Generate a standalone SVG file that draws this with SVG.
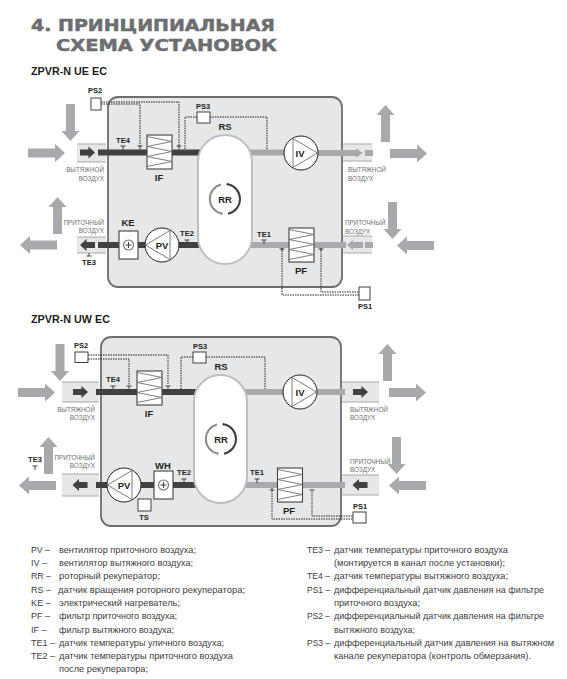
<svg xmlns="http://www.w3.org/2000/svg" xmlns:xlink="http://www.w3.org/1999/xlink" width="567" height="679" viewBox="0 0 567 679">
<style>
text{font-family:"Liberation Sans",Arial,sans-serif;fill:#231f20}
.title{font-family:"DejaVu Sans",sans-serif;font-weight:bold;font-size:16.500px;fill:#6d6e71;stroke:#6d6e71;stroke-width:.5}
.h{font-weight:bold;font-size:10.5px}
.n{font-weight:bold;font-size:9.5px;text-anchor:middle}
.s{font-weight:bold;font-size:7.5px;text-anchor:middle}
.a{font-size:6.300px;fill:#6d6e71}
.e{text-anchor:end}
.l{font-family:"Liberation Sans",sans-serif;font-size:9.600px;fill:#414042}
.house{fill:#e6e7e8;stroke:#6d6e71;stroke-width:1.8}
.oval{fill:#fff;stroke:#bcbec0;stroke-width:2}
.tube{fill:#e6e7e8}
.tl{stroke:#a7a9ac;stroke-width:1.2;fill:none}
.big{fill:#a7a9ac}
.dk{stroke:#414042;stroke-width:6;fill:none}
.lg{stroke:#a7a9ac;stroke-width:6;fill:none}
.dash{stroke:#231f20;stroke-width:1;stroke-dasharray:1.500 1;fill:none}
.box{fill:#fff;stroke:#414042;stroke-width:1}
.wbox{fill:#fff;stroke:#414042;stroke-width:1.1}
.tee{stroke:#414042;stroke-width:1;fill:none}
.fan{fill:#fff;stroke:#231f20;stroke-width:1}
.fl{fill:none;stroke:#6d6e71;stroke-width:.9}
.ring{fill:none;stroke-width:2}
</style>
<defs>
<path id="arR" d="M0-4.5H27V-9L37 0L27 9V4.500H0Z"/>
<path id="arL" d="M0-4.5H-27V-9L-37 0L-27 9V4.500H0Z"/>
<path id="arD" d="M-4.500 0V27H-9L0 37L9 27H4.500V0Z"/>
<path id="arU" d="M-4.500 0V-27H-9L0-37L9-27H4.500V0Z"/>
<path id="smR" d="M-7.500-3H1V-6L7.500 0L1 6V3H-7.500Z"/>
<path id="smL" d="M7.500-3H-1V-6L-7.500 0L-1 6V3H7.500Z"/>
<path id="tee" d="M-2.500 0H2.500M0 0V4"/>
<g id="filter">
<rect width="25" height="34" class="wbox"/>
<path class="fl" d="M0 1.500L25 6.500L0 11.500L25 16.500L0 21.500L25 26.500L0 31.500"/>
</g>
<g id="fanR">
<circle r="17" class="fan"/>
<path class="fl" d="M-8-14.500V14.500L16.500 0Z"/>
</g>
<g id="fanL">
<circle r="17" class="fan"/>
<path class="fl" d="M8-14.500V14.500L-16.500 0Z"/>
</g>
<g id="heat">
<rect width="19" height="28" class="wbox"/>
<circle cx="9.500" cy="14" r="5" fill="#fff" stroke="#6d6e71" stroke-width="1.100"/>
<path d="M6.500 14H12.500M9.500 11V17" stroke="#414042" stroke-width="1.100"/>
</g>
<g id="ring">
<path class="ring" stroke="#8a8c8f" d="M-4-14.500A15 15 0 0 0-4 14.500"/>
<path class="ring" stroke="#414042" d="M3-14.700A15 15 0 0 1 3 14.700"/>
<path d="M3-16.500L3-13L1-14.700Z" fill="#414042"/>
<path d="M-4 16.500L-4 12.800L-2 14.500Z" fill="#8a8c8f"/>
</g>
</defs>

<g id="title">
<text class="title" x="31" y="31" textLength="244" lengthAdjust="spacingAndGlyphs">4. ПРИНЦИПИАЛЬНАЯ</text>
<text class="title" x="56" y="51" textLength="221" lengthAdjust="spacingAndGlyphs">СХЕМА УСТАНОВОК</text>
<text class="h" x="31" y="75" textLength="76" lengthAdjust="spacingAndGlyphs">ZPVR-N UE EC</text>
<text class="h" x="31" y="323" textLength="79" lengthAdjust="spacingAndGlyphs">ZPVR-N UW EC</text>
</g>

<g id="d1-housing"><rect x="108" y="97" width="234" height="190" rx="10" class="house"/></g>
<g id="d2-housing"><rect x="101" y="337" width="240" height="189" rx="10" class="house"/></g>

<g id="d1-flow">
<use xlink:href="#arD" x="70.500" y="104" class="big"/>
<use xlink:href="#arR" x="28" y="153" class="big"/>
<use xlink:href="#arU" x="57.500" y="234" class="big"/>
<use xlink:href="#arL" x="57" y="245" class="big"/>
<use xlink:href="#arU" x="385.500" y="142" class="big"/>
<use xlink:href="#arR" x="390" y="153.500" class="big"/>
<use xlink:href="#arD" x="392.500" y="202" class="big"/>
<use xlink:href="#arL" x="434" y="245.500" class="big"/>
<rect class="tube" x="77" y="144" width="29" height="18"/><path class="tl" d="M77 144H106M77 162H106"/>
<rect class="tube" x="77" y="237" width="29" height="16"/><path class="tl" d="M77 237H106M77 253H106"/>
<rect class="tube" x="343" y="144" width="29" height="17"/><path class="tl" d="M343 144H372M343 161H372"/>
<rect class="tube" x="343" y="236" width="29" height="17"/><path class="tl" d="M343 236H372M343 253H372"/>
</g>
<g id="d2-flow">
<use xlink:href="#arD" x="60" y="344" class="big"/>
<use xlink:href="#arR" x="18" y="392.500" class="big"/>
<use xlink:href="#arU" x="48.500" y="474" class="big"/>
<use xlink:href="#arL" x="56" y="485.500" class="big"/>
<use xlink:href="#arU" x="387.500" y="381" class="big"/>
<use xlink:href="#arR" x="389" y="392.500" class="big"/>
<use xlink:href="#arD" x="396.500" y="437" class="big"/>
<use xlink:href="#arL" x="426" y="485.500" class="big"/>
<rect class="tube" x="62" y="382" width="37" height="20"/><path class="tl" d="M62 382H99M62 402H99"/>
<rect class="tube" x="62" y="474" width="37" height="22"/><path class="tl" d="M62 474H99M62 496H99"/>
<rect class="tube" x="342" y="382" width="37" height="20"/><path class="tl" d="M342 382H379M342 402H379"/>
<rect class="tube" x="342" y="475" width="37" height="20"/><path class="tl" d="M342 475H379M342 495H379"/>
</g>

<g id="connectors">
<path class="dk" d="M98 152.500H200M98 245H120M138 245H146M178 245H200"/>
<path class="lg" d="M250 152.500H285M316 153H358M365 153H373M250 245H290M313 245H346M365 245H373"/>
<path d="M356 148L362.500 153L356 158ZM353 240L347 245L353 250Z" fill="#a7a9ac"/>
<path class="lg" d="M353 245H363"/>
<path class="dash" d="M101 102H179V147M101 104H140V147M197 117H185V149M210 117H267V150M282 248V295H359M321 248V292H359"/>
<path class="dk" d="M96 392H196M96 485H108M140 485H155M172 485H196"/>
<path class="lg" d="M245 392H285M315 392H345M245 485H278M302 485H345"/>
<path class="dash" d="M88 355H168V385M88 359H129V385M193 357H181V389M206 357H265V389M272 488V519H353M312 490V516H353"/>
<use xlink:href="#smR" x="87.500" y="152.500" fill="#414042"/>
<use xlink:href="#smL" x="87.500" y="245" fill="#414042"/>
<use xlink:href="#smR" x="80.500" y="392" fill="#414042"/>
<use xlink:href="#smL" x="80" y="485" fill="#414042"/>
<use xlink:href="#smR" x="360.500" y="392" fill="#414042"/>
<use xlink:href="#smL" x="360" y="485" fill="#414042"/>
<use xlink:href="#tee" x="123" y="146" class="tee"/>
<use xlink:href="#tee" x="140" y="146" class="tee"/>
<use xlink:href="#tee" x="179" y="146" class="tee"/>
<use xlink:href="#tee" x="187" y="240" class="tee"/>
<use xlink:href="#tee" x="264" y="240" class="tee"/>
<path class="tee" d="M89 253V256M86.500 256H91.500M282 249V251M279.500 249H284.500M321 249V251M318.500 249H323.500"/>
<use xlink:href="#tee" x="113" y="386" class="tee"/>
<use xlink:href="#tee" x="129" y="386" class="tee"/>
<use xlink:href="#tee" x="168" y="386" class="tee"/>
<use xlink:href="#tee" x="184" y="479" class="tee"/>
<use xlink:href="#tee" x="257" y="479" class="tee"/>
<use xlink:href="#tee" x="35" y="466" class="tee"/>
<path class="tee" d="M269.500 490H274.500M309.500 490H314.500"/>
</g>

<g id="d1-RR"><rect x="198" y="135" width="54" height="129" rx="27" class="oval"/><use xlink:href="#ring" x="225" y="199"/><text class="n" x="225" y="203">RR</text></g>
<g id="d1-IF"><use xlink:href="#filter" x="147" y="135"/><text class="n" x="159" y="181">IF</text></g>
<g id="d1-PF"><use xlink:href="#filter" x="289" y="228"/><text class="n" x="301" y="274">PF</text></g>
<g id="d1-IV"><use xlink:href="#fanR" x="301" y="153"/><text class="n" x="300" y="157">IV</text></g>
<g id="d1-PV"><use xlink:href="#fanL" x="162" y="245"/><text class="n" x="162" y="249">PV</text></g>
<g id="d1-KE"><use xlink:href="#heat" x="119" y="231"/><text class="n" x="128" y="226">KE</text></g>
<g id="d1-PS2"><rect x="91" y="98" width="10" height="12" class="box"/><text class="s" x="95" y="93">PS2</text></g>
<g id="d1-PS3"><rect x="197" y="112" width="13" height="11" class="box"/><text class="s" x="203" y="109">PS3</text></g>
<g id="d1-PS1"><rect x="359" y="287" width="11" height="13" class="box"/><text class="s" x="365" y="309">PS1</text></g>
<g id="d1-labels">
<text class="n" x="225" y="130">RS</text>
<text class="s" x="123" y="143">TE4</text>
<text class="s" x="187" y="236">TE2</text>
<text class="s" x="264" y="237">TE1</text>
<text class="s" x="89" y="265">TE3</text>
<text class="a e" x="104" y="172">ВЫТЯЖНОЙ</text><text class="a e" x="104" y="181">ВОЗДУХ</text>
<text class="a e" x="104" y="225">ПРИТОЧНЫЙ</text><text class="a e" x="104" y="233">ВОЗДУХ</text>
<text class="a" x="348" y="172">ВЫТЯЖНОЙ</text><text class="a" x="348" y="181">ВОЗДУХ</text>
<text class="a" x="345" y="225">ПРИТОЧНЫЙ</text><text class="a" x="345" y="234">ВОЗДУХ</text>
</g>

<g id="d2-RR"><rect x="194" y="375" width="53" height="128" rx="26.500" class="oval"/><use xlink:href="#ring" x="221" y="439"/><text class="n" x="221" y="443">RR</text></g>
<g id="d2-IF"><use xlink:href="#filter" x="137" y="371"/><text class="n" x="149" y="417">IF</text></g>
<g id="d2-PF"><use xlink:href="#filter" x="277.500" y="468"/><text class="n" x="289" y="514">PF</text></g>
<g id="d2-IV"><use xlink:href="#fanR" x="300" y="392"/><text class="n" x="300" y="396">IV</text></g>
<g id="d2-PV"><use xlink:href="#fanL" x="124" y="485"/><text class="n" x="124" y="489">PV</text></g>
<g id="d2-WH"><use xlink:href="#heat" x="154" y="471"/><text class="n" x="163" y="469">WH</text></g>
<g id="d2-TS"><rect x="138" y="499" width="13" height="12" class="box"/><text class="s" x="144" y="520">TS</text></g>
<g id="d2-PS2"><rect x="75" y="352" width="13" height="10.500" class="box"/><text class="s" x="81" y="348">PS2</text></g>
<g id="d2-PS3"><rect x="193" y="352" width="13" height="11" class="box"/><text class="s" x="200" y="349">PS3</text></g>
<g id="d2-PS1"><rect x="353" y="512" width="13" height="11" class="box"/><text class="s" x="360" y="509">PS1</text></g>
<g id="d2-labels">
<text class="n" x="221" y="370">RS</text>
<text class="s" x="113" y="382">TE4</text>
<text class="s" x="184" y="475">TE2</text>
<text class="s" x="257" y="475">TE1</text>
<text class="s" x="35" y="462">TE3</text>
<text class="a e" x="95" y="412">ВЫТЯЖНОЙ</text><text class="a e" x="95" y="420">ВОЗДУХ</text>
<text class="a e" x="95" y="460">ПРИТОЧНЫЙ</text><text class="a e" x="95" y="468">ВОЗДУХ</text>
<text class="a" x="350" y="412">ВЫТЯЖНОЙ</text><text class="a" x="350" y="420">ВОЗДУХ</text>
<text class="a" x="350" y="464">ПРИТОЧНЫЙ</text><text class="a" x="350" y="472">ВОЗДУХ</text>
</g>

<g id="legend-left">
<text class="l" x="31" y="553" textLength="19" lengthAdjust="spacingAndGlyphs">PV –</text><text class="l" x="59" y="553" textLength="137" lengthAdjust="spacingAndGlyphs">вентилятор приточного воздуха;</text>
<text class="l" x="31" y="566" textLength="16" lengthAdjust="spacingAndGlyphs">IV –</text><text class="l" x="59" y="566" textLength="134" lengthAdjust="spacingAndGlyphs">вентилятор вытяжного воздуха;</text>
<text class="l" x="31" y="579" textLength="20" lengthAdjust="spacingAndGlyphs">RR –</text><text class="l" x="59" y="579" textLength="101" lengthAdjust="spacingAndGlyphs">роторный рекуператор;</text>
<text class="l" x="31" y="592.500" textLength="20" lengthAdjust="spacingAndGlyphs">RS –</text><text class="l" x="58" y="592.500" textLength="187" lengthAdjust="spacingAndGlyphs">датчик вращения роторного рекуператора;</text>
<text class="l" x="31" y="606" textLength="20" lengthAdjust="spacingAndGlyphs">KE –</text><text class="l" x="59" y="606" textLength="121" lengthAdjust="spacingAndGlyphs">электрический нагреватель;</text>
<text class="l" x="31" y="619" textLength="19" lengthAdjust="spacingAndGlyphs">PF –</text><text class="l" x="59" y="619" textLength="118" lengthAdjust="spacingAndGlyphs">фильтр приточного воздуха;</text>
<text class="l" x="31" y="632.500" textLength="16" lengthAdjust="spacingAndGlyphs">IF –</text><text class="l" x="59" y="632.500" textLength="115" lengthAdjust="spacingAndGlyphs">фильтр вытяжного воздуха;</text>
<text class="l" x="31" y="645.500" textLength="24" lengthAdjust="spacingAndGlyphs">TE1 –</text><text class="l" x="59" y="645.500" textLength="165" lengthAdjust="spacingAndGlyphs">датчик температуры уличного воздуха;</text>
<text class="l" x="31" y="658.500" textLength="24" lengthAdjust="spacingAndGlyphs">TE2 –</text><text class="l" x="59" y="658.500" textLength="174" lengthAdjust="spacingAndGlyphs">датчик температуры приточного воздуха</text>
<text class="l" x="59" y="672" textLength="89" lengthAdjust="spacingAndGlyphs">после рекуператора;</text>
</g>
<g id="legend-right">
<text class="l" x="307" y="553" textLength="23" lengthAdjust="spacingAndGlyphs">TE3 –</text><text class="l" x="334" y="553" textLength="174" lengthAdjust="spacingAndGlyphs">датчик температуры приточного воздуха</text>
<text class="l" x="334" y="566" textLength="171" lengthAdjust="spacingAndGlyphs">(монтируется в канал после установки);</text>
<text class="l" x="307" y="579" textLength="23" lengthAdjust="spacingAndGlyphs">TE4 –</text><text class="l" x="334" y="579" textLength="174" lengthAdjust="spacingAndGlyphs">датчик температуры вытяжного воздуха;</text>
<text class="l" x="307" y="592.500" textLength="23" lengthAdjust="spacingAndGlyphs">PS1 –</text><text class="l" x="334" y="592.500" textLength="210" lengthAdjust="spacingAndGlyphs">дифференциальный датчик давления на фильтре</text>
<text class="l" x="334" y="606" textLength="86" lengthAdjust="spacingAndGlyphs">приточного воздуха;</text>
<text class="l" x="307" y="619" textLength="23" lengthAdjust="spacingAndGlyphs">PS2 –</text><text class="l" x="334" y="619" textLength="210" lengthAdjust="spacingAndGlyphs">дифференциальный датчик давления на фильтре</text>
<text class="l" x="334" y="632.500" textLength="81" lengthAdjust="spacingAndGlyphs">вытяжного воздуха;</text>
<text class="l" x="307" y="645.500" textLength="23" lengthAdjust="spacingAndGlyphs">PS3 –</text><text class="l" x="334" y="645.500" textLength="220" lengthAdjust="spacingAndGlyphs">дифференциальный датчик давления на вытяжном</text>
<text class="l" x="334" y="658.500" textLength="197" lengthAdjust="spacingAndGlyphs">канале рекуператора (контроль обмерзания).</text>
</g>
</svg>
